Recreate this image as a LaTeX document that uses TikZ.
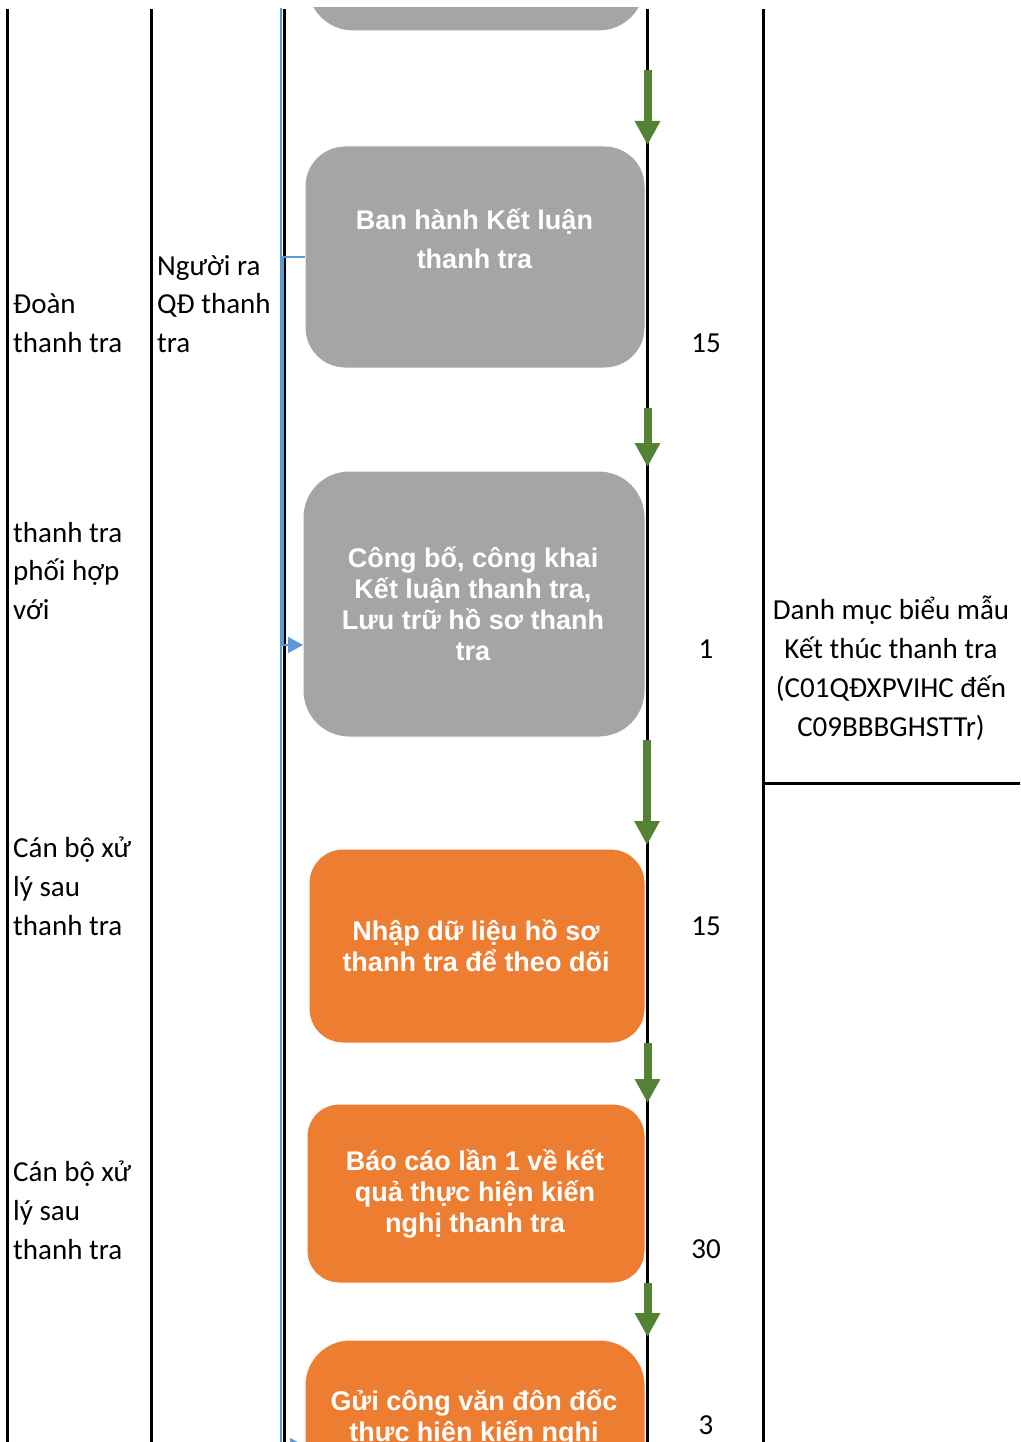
\documentclass[tikz,border=0pt]{standalone}
\usepackage{fontspec}
\setmainfont{Carlito}
\newfontfamily\arialfont{Liberation Sans}
\usetikzlibrary{arrows.meta}
\definecolor{boxgray}{HTML}{A5A5A5}
\definecolor{boxorange}{HTML}{ED7D31}
\definecolor{arrowgreen}{HTML}{548235}
\definecolor{linkblue}{HTML}{5B9BD5}
\begin{document}
\begin{tikzpicture}[x=1pt,y=-1pt,
  gridline/.style={line width=3pt, black},
  stepbox/.style={rectangle, draw=white, line width=1pt, inner sep=0pt, outer sep=0pt},
  graybox/.style={stepbox, fill=boxgray},
  orangebox/.style={stepbox, fill=boxorange},
  boxtext/.style={font=\arialfont\bfseries\fontsize{27}{31}\selectfont, text=white, align=center, inner sep=0pt},
  celltext/.style={font=\fontsize{29}{38.8}\selectfont, align=left, inner sep=0pt, anchor=west},
  centertext/.style={font=\fontsize{29}{38.8}\selectfont, align=center, inner sep=0pt},
  garrow/.style={arrowgreen, line width=8pt, -{Triangle[length=24pt,width=24pt]}},
  barrow/.style={linkblue, line width=1.5pt},
  btip/.style={-{Triangle[length=15pt,width=16pt]}},
]
\useasboundingbox (0,0) rectangle (1020,1442);
\fill[white] (0,0) rectangle (1020,1442);
\begin{scope}
\clip (0,8) rectangle (1020,1442);
% table grid
\draw[gridline] (7.5,9) -- (7.5,1446);
\draw[gridline] (151.5,9) -- (151.5,1446);
\draw[gridline] (284,9) -- (284,1446);
\draw[gridline] (647.5,9) -- (647.5,1446);
\draw[gridline] (763.5,9) -- (763.5,1446);
\draw[gridline] (763.5,783) -- (1022,783);

% boxes
\node[graybox, rounded corners=46pt, minimum width=338pt, minimum height=200pt] (prev) at (476,-69) {};
\node[graybox, rounded corners=40pt, minimum width=340pt, minimum height=222pt] (ban) at (475,257) {};
\node[graybox, rounded corners=46pt, minimum width=342pt, minimum height=266pt] (cong) at (474,604) {};
\node[orangebox, rounded corners=34pt, minimum width=336pt, minimum height=194pt] (nhap) at (477,946) {};
\node[orangebox, rounded corners=32pt, minimum width=338pt, minimum height=179pt] (bao) at (476,1193.5) {};
\node[orangebox, rounded corners=45pt, minimum width=340pt, minimum height=200pt] (gui) at (475,1440) {};

\node[boxtext, font=\arialfont\bfseries\fontsize{27}{39}\selectfont] (banT) at (474.5,238.5) {Ban hành Kết luận\\thanh tra};
\node[boxtext] (congT) at (473,603.5) {Công bố, công khai\\Kết luận thanh tra,\\Lưu trữ hồ sơ thanh\\tra};
\node[boxtext] (nhapT) at (476,945.5) {Nhập dữ liệu hồ sơ\\thanh tra để theo dõi};
\node[boxtext] (baoT) at (475,1193.5) {Báo cáo lần 1 về kết\\quả thực hiện kiến\\nghị thanh tra};
\node[boxtext] (guiT) at (474,1418) {Gửi công văn đôn đốc\\thực hiện kiến nghị};

% blue connectors
\coordinate (bTop) at (281,8);
\coordinate (bBot) at (281,1446);
\draw[barrow, btip] (bTop) -- (bBot) -- (gui.west |- bBot);
\coordinate (bk1) at (283,257);
\coordinate (bk2) at (283,645);
\draw[barrow, btip] (ban.west) -- (bk1) -- (bk2) -- (cong.west |- bk2);

% green arrows
\coordinate (g1a) at (647.5,70);  \coordinate (g1b) at (647.5,145);
\coordinate (g2a) at (647.5,408); \coordinate (g2b) at (647.5,467);
\coordinate (g3a) at (647,740);   \coordinate (g3b) at (647,845);
\coordinate (g4a) at (647.5,1043);\coordinate (g4b) at (647.5,1103);
\coordinate (g5a) at (647.5,1283);\coordinate (g5b) at (647.5,1337);
\draw[garrow] (g1a) -- (g1b);
\draw[garrow] (g2a) -- (g2b);
\draw[garrow] (g3a) -- (g3b);
\draw[garrow] (g4a) -- (g4b);
\draw[garrow] (g5a) -- (g5b);

% left column texts
\node[celltext] (l1) at (13,323.5) {Đoàn\\thanh tra};
\node[celltext] (l2) at (13,571) {thanh tra\\phối hợp\\với};
\node[celltext] (l3) at (13,886.5) {Cán bộ xử\\lý sau\\thanh tra};
\node[celltext] (l4) at (13,1210) {Cán bộ xử\\lý sau\\thanh tra};
% middle column
\node[celltext] (m1) at (157,304) {Người ra\\QĐ thanh\\tra};
% numbers
\node[centertext] (n1) at (706,343) {15};
\node[centertext] (n2) at (706,649) {1};
\node[centertext] (n3) at (706,926) {15};
\node[centertext] (n4) at (706,1249) {30};
\node[centertext] (n5) at (706,1425) {3};
% right column
\node[centertext] (r1) at (891,668) {Danh mục biểu mẫu\\Kết thúc thanh tra\\(C01QĐXPVIHC đến\\C09BBBGHSTTr)};
\end{scope}
\end{tikzpicture}
\end{document}
